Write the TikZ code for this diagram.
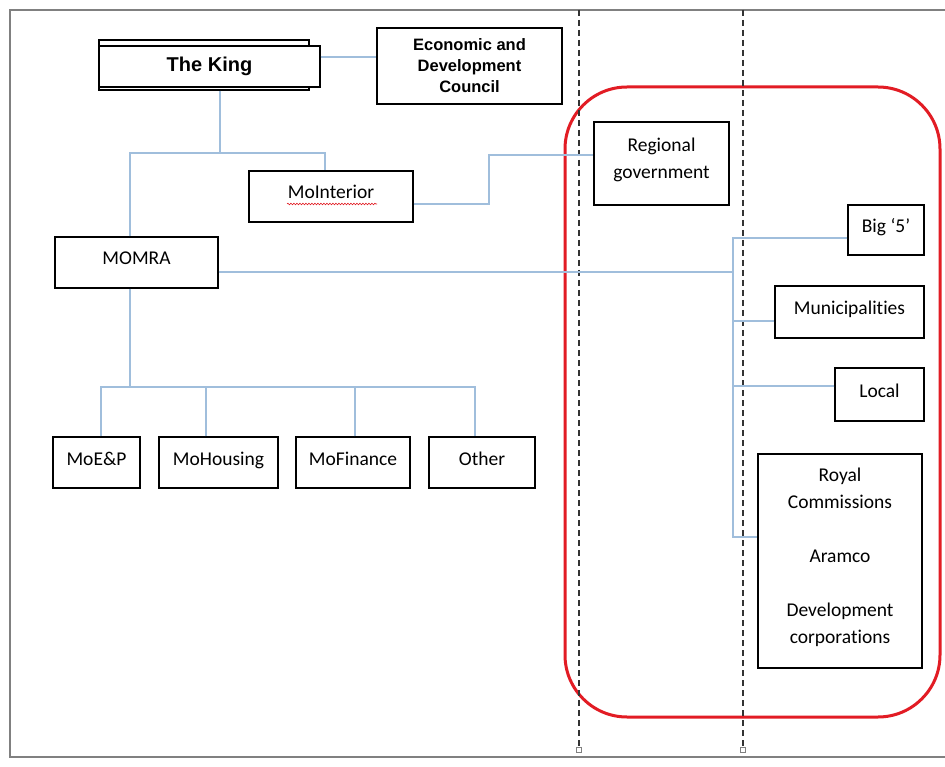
\documentclass[tikz,border=0pt]{standalone}
\usepackage{fontspec}
\setmainfont{Carlito}[Ligatures=NoCommon]
\newfontfamily\headfont{Liberation Sans}
\usetikzlibrary{decorations.pathmorphing}
\definecolor{linkblue}{RGB}{160,190,220}
\definecolor{framegray}{RGB}{128,128,128}
\definecolor{ringred}{RGB}{226,28,36}
\tikzset{
  box/.style={draw=black, line width=1.4pt, fill=white, rectangle, inner sep=0pt,
    font=\fontsize{19.5}{27}\selectfont, align=center},
  onebox/.style={box, text height=12pt, text depth=7pt},
  boxtext/.style={font=\fontsize{19.5}{27}\selectfont, align=center, inner sep=0pt},
  headbox/.style={box, font=\headfont\bfseries\fontsize{16.5}{21}\selectfont},
  link/.style={draw=linkblue, line width=1.2pt},
  divider/.style={draw=black!80, line width=1.1pt, dash pattern=on 6pt off 4pt},
  endmark/.style={draw=framegray, fill=white, line width=0.6pt, rectangle,
    minimum size=5pt, inner sep=0pt},
}
\begin{document}
\begin{tikzpicture}[x=1pt, y=-1pt]
\useasboundingbox (0,0) rectangle (945,767);
\fill[white] (0,0) rectangle (945,767);

% page frame, open on the right
\draw[framegray, line width=2pt] (945,10) -- (10,10) -- (10,757) -- (945,757);

% highlighted group
\draw[ringred, line width=3pt, rounded corners=62pt] (565,87) rectangle (940,717);

% column dividers
\coordinate (d1top) at (579,10);
\coordinate (d2top) at (743,10);
\node[endmark] (d1end) at (579,750) {};
\node[endmark] (d2end) at (743,750) {};
\draw[divider] (d1top) -- (d1end.north);
\draw[divider] (d2top) -- (d2end.north);

% top level
\node[draw=black, line width=1.4pt, fill=white, minimum width=210pt, minimum height=50pt, inner sep=0pt]
  (kingback) at (204,65) {};
\node[box, minimum width=221pt, minimum height=41pt,
  font=\headfont\bfseries\fontsize{20}{24}\selectfont] (king) at (209.5,66.5) {The King};
\node[headbox, minimum width=185pt, minimum height=76pt] (edc) at (469.5,66)
  {Economic and\\Development\\Council};

% ministries
\node[onebox, minimum width=164pt, minimum height=51pt] (mointerior) at (331,196.5) {MoInterior};
\draw[ringred, line width=0.6pt, decorate,
  decoration={snake, amplitude=0.8pt, segment length=3pt}] (287,204) -- (377,204);
\node[onebox, minimum width=163pt, minimum height=51pt] (momra) at (136.5,262.5) {MOMRA};

\node[onebox, minimum width=87pt, minimum height=51pt] (moep) at (96.5,462.5) {MoE\&P};
\node[onebox, minimum width=119pt, minimum height=51pt] (mohousing) at (218.5,462.5) {MoHousing};
\node[onebox, minimum width=114pt, minimum height=51pt] (mofinance) at (353,462.5) {MoFinance};
\node[onebox, minimum width=106pt, minimum height=51pt] (other) at (482,462.5) {Other};

% regional and local bodies
\node[box, minimum width=135pt, minimum height=83pt] (regional) at (661.5,163.5) {};
\node[boxtext] (regionaltext) at (661.5,159.5) {Regional\\government};
\node[onebox, minimum width=76pt, minimum height=50pt] (big5) at (886,230) {Big ‘5’};
\node[onebox, minimum width=149pt, minimum height=52pt] (muni) at (849.5,312) {Municipalities};
\node[onebox, minimum width=89pt, minimum height=53pt] (local) at (879.5,394.5) {Local};
\node[box, minimum width=164pt, minimum height=214pt] (royal) at (840,561) {};
\node[boxtext] (royaltext) at (840,557)
  {Royal\\Commissions\\[27pt]Aramco\\[27pt]Development\\corporations};

% connectors
\draw[link] (king.east |- 0,57) -- (edc.west |- 0,57);
\coordinate (kinghub) at (220,153);
\draw[link] (kingback.south -| kinghub) -- (kinghub);
\draw[link] (momra.north -| 130,0) |- (325,153) -- (mointerior.north -| 325,0);
\draw[link] (mointerior.east |- 0,204) -| (489,155) -- (regional.west |- 0,155);

\coordinate (spine) at (733,272);
\draw[link] (momra.east |- spine) -- (spine);
\draw[link] (big5.west |- 0,238) -| (spine |- 0,537) -- (royal.west |- 0,537);
\draw[link] (muni.west |- 0,321) -- (spine |- 0,321);
\draw[link] (local.west |- 0,386) -- (spine |- 0,386);

\coordinate (lowhub) at (130,387);
\draw[link] (momra.south -| lowhub) -- (lowhub);
\draw[link] (moep.north -| 101,0) |- (475,387) -- (other.north -| 475,0);
\draw[link] (mohousing.north -| 206,0) -- (206,387);
\draw[link] (mofinance.north -| 355,0) -- (355,387);
\end{tikzpicture}
\end{document}
